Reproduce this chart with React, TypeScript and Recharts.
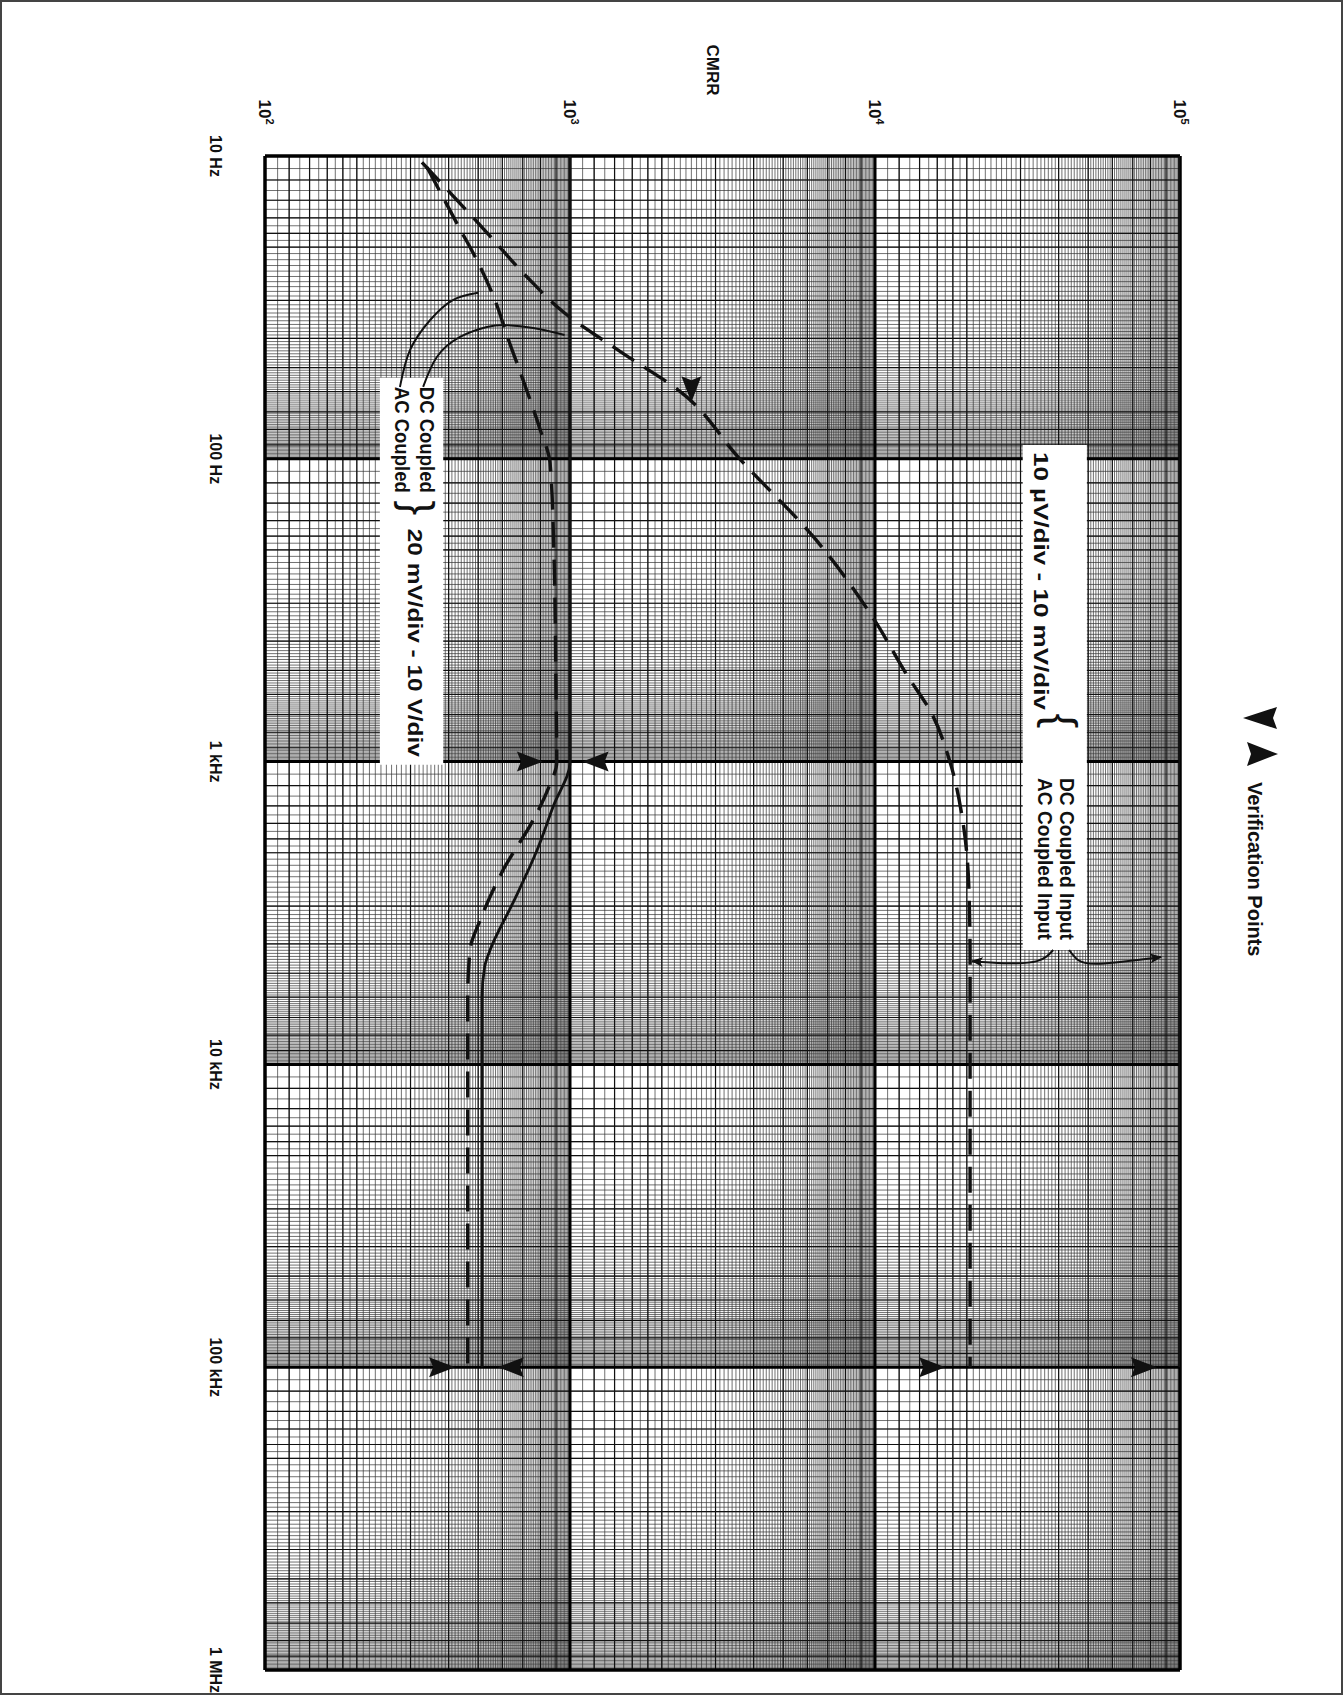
import React from "react";
import {
  ScatterChart,
  Scatter,
  XAxis,
  YAxis,
  CartesianGrid,
  ReferenceLine,
  ReferenceArea,
  Legend,
  Curve,
} from "recharts";

// CMRR vs frequency, printed on log-log paper turned a quarter turn
const FONT = "'Liberation Sans', Arial, Helvetica, sans-serif";
const INK = "#111";

const cmrrDecades = [100, 1000, 10000, 100000];
const cmrrExp = ["2", "3", "4", "5"];
const freqDecades = [10, 100, 1000, 10000, 100000, 1000000];
const freqLabels = ["10 Hz", "100 Hz", "1 kHz", "10 kHz", "100 kHz", "1 MHz"];

// 10 µV/div - 10 mV/div
const sensDcInput = [
  { f: 10, cmrr: 100000 },
  { f: 100000, cmrr: 100000 },
];
const sensAcInput = [
  { f: 10.5, cmrr: 327 },
  { f: 17.8, cmrr: 531 },
  { f: 25, cmrr: 720 },
  { f: 33, cmrr: 960 },
  { f: 45, cmrr: 1500 },
  { f: 60, cmrr: 2300 },
  { f: 100, cmrr: 3600 },
  { f: 185, cmrr: 6400 },
  { f: 343, cmrr: 10000 },
  { f: 516, cmrr: 12700 },
  { f: 690, cmrr: 15300 },
  { f: 1000, cmrr: 17600 },
  { f: 1570, cmrr: 19400 },
  { f: 2570, cmrr: 20300 },
  { f: 4500, cmrr: 20500 },
  { f: 100000, cmrr: 20500 },
];

// 20 mV/div - 10 V/div
const coarseDc = [
  { f: 10, cmrr: 1000 },
  { f: 1000, cmrr: 1000 },
  { f: 1410, cmrr: 880 },
  { f: 1960, cmrr: 780 },
  { f: 2930, cmrr: 650 },
  { f: 4190, cmrr: 547 },
  { f: 4760, cmrr: 525 },
  { f: 6000, cmrr: 515 },
  { f: 100000, cmrr: 515 },
];
const coarseAc = [
  { f: 10.9, cmrr: 340 },
  { f: 17, cmrr: 430 },
  { f: 22.5, cmrr: 500 },
  { f: 30, cmrr: 568 },
  { f: 40, cmrr: 626 },
  { f: 55, cmrr: 702 },
  { f: 80, cmrr: 798 },
  { f: 103, cmrr: 860 },
  { f: 200, cmrr: 885 },
  { f: 600, cmrr: 900 },
  { f: 1000, cmrr: 905 },
  { f: 1240, cmrr: 845 },
  { f: 1550, cmrr: 760 },
  { f: 2270, cmrr: 605 },
  { f: 3300, cmrr: 510 },
  { f: 4200, cmrr: 470 },
  { f: 6000, cmrr: 462 },
  { f: 100000, cmrr: 462 },
];

// verification points (tip of each arrowhead)
const verifyRight = [
  { f: 1000, cmrr: 815 },
  { f: 100000, cmrr: 420 },
  { f: 100000, cmrr: 17000 },
  { f: 100000, cmrr: 84000 },
];
const verifyLeft = [
  { f: 1000, cmrr: 1100 },
  { f: 100000, cmrr: 580 },
];
const verifyDown = [{ f: 65, cmrr: 2500 }];

// leader lines from the text boxes
const leaderDcInput = [
  { cmrr: 43300, f: 4190 },
  { cmrr: 46300, f: 4520 },
  { cmrr: 54700, f: 4650 },
  { cmrr: 86700, f: 4420 },
];
const leaderAcInput = [
  { cmrr: 38400, f: 4190 },
  { cmrr: 33960, f: 4560 },
  { cmrr: 26500, f: 4630 },
  { cmrr: 20800, f: 4560 },
];
const leaderDcCoupled = [
  { cmrr: 330, f: 57.9 },
  { cmrr: 366, f: 46.1 },
  { cmrr: 436, f: 39.6 },
  { cmrr: 534, f: 36.7 },
  { cmrr: 621, f: 36.2 },
  { cmrr: 757, f: 37 },
  { cmrr: 960, f: 39 },
];
const leaderAcCoupled = [
  { cmrr: 277, f: 57.9 },
  { cmrr: 299, f: 43.7 },
  { cmrr: 348, f: 34.8 },
  { cmrr: 413, f: 29.9 },
  { cmrr: 500, f: 28.3 },
];

// log paper rulings: fine every 0.1 of a decade, heavier on the main steps
const fineRule = (decades: number[]) =>
  decades.flatMap((d) => Array.from({ length: 90 }, (_, i) => +((d * (10 + i)) / 10).toPrecision(6)));
const midSteps = [1.2, 1.4, 1.6, 1.8, 2, 3, 4, 5, 6, 7, 8, 9];
const gridX = [...fineRule([100, 1000, 10000]), 100000];
const gridY = [...fineRule([10, 100, 1000, 10000, 100000]), 1000000];
const midX = [100, 1000, 10000].flatMap((d) => midSteps.map((s) => +(d * s).toPrecision(6)));
const midY = [10, 100, 1000, 10000, 100000].flatMap((d) => midSteps.map((s) => +(d * s).toPrecision(6)));

const txt = (
  x: number,
  y: number,
  s: string,
  size = 20,
  weight: any = "bold",
  anchor: any = "start",
  length?: number
) => (
  <text
    transform={`translate(${x},${y}) rotate(90)`}
    textAnchor={anchor}
    fontFamily={FONT}
    fontWeight={weight}
    fontSize={size}
    fill={INK}
    textLength={length}
    lengthAdjust={length ? "spacingAndGlyphs" : undefined}
  >
    {s}
  </text>
);

function CmrrTick(props: any) {
  const { x, payload } = props;
  const i = cmrrDecades.indexOf(payload.value);
  if (i < 0) return <g />;
  return (
    <text
      transform={`translate(${x - 6},112) rotate(90)`}
      textAnchor="middle"
      fontFamily={FONT}
      fontWeight="bold"
      fontSize={17}
      fill={INK}
    >
      10
      <tspan dy={-7} fontSize={11}>
        {cmrrExp[i]}
      </tspan>
    </text>
  );
}

function FreqTick(props: any) {
  const { y, payload } = props;
  const i = freqDecades.indexOf(payload.value);
  if (i < 0) return <g />;
  return txt(210, y, freqLabels[i], 16, "bold", "middle");
}

function CmrrTitle(props: any) {
  const vb = props.viewBox;
  return txt(vb.x + vb.width * 0.49 - 6, vb.y - 26, "CMRR", 17, "bold", "middle");
}

function UpperBoxText(props: any) {
  const { x, y } = props.viewBox;
  return (
    <g>
      {txt(x + 11, y + 7, "10 \u00b5V/div - 10 mV/div", 21, "bold", "start", 258)}
      {txt(x + 23, y + 276, "{", 44, "normal", "middle")}
      {txt(x + 37, y + 333, "DC Coupled Input", 20, "bold", "start", 162)}
      {txt(x + 15, y + 333, "AC Coupled Input", 20, "bold", "start", 162)}
    </g>
  );
}

function LowerBoxText(props: any) {
  const { x, y } = props.viewBox;
  return (
    <g>
      {txt(x + 40, y + 9, "DC Coupled", 20, "bold", "start", 106)}
      {txt(x + 15, y + 9, "AC Coupled", 20, "bold", "start", 106)}
      {txt(x + 23, y + 130, "}", 44, "normal", "middle")}
      {txt(x + 28, y + 151, "20 mV/div - 10 V/div", 21, "bold", "start", 228)}
    </g>
  );
}

const head = (cx: number, cy: number, dir: string, len = 26, half = 10, notch = 4) => {
  let pts: number[][];
  if (dir === "right")
    pts = [[cx, cy], [cx - len, cy - half], [cx - len + notch, cy], [cx - len, cy + half]];
  else if (dir === "left")
    pts = [[cx, cy], [cx + len, cy - half], [cx + len - notch, cy], [cx + len, cy + half]];
  else pts = [[cx, cy], [cx - half, cy - len], [cx, cy - len + notch], [cx + half, cy - len]];
  return <polygon points={pts.map((p) => p.join(",")).join(" ")} fill={INK} />;
};

function VerificationLegend() {
  return (
    <svg width={80} height={290}>
      <polygon points="13,18 47,7 43,18 47,29" fill={INK} />
      <polygon points="48,54 17,42 21,54 17,66" fill={INK} />
      {txt(18, 82, "Verification Points", 20)}
    </svg>
  );
}

const noDot = () => <g />;
const leaderLine = (p: any) => (
  <Curve points={p.points} type="natural" stroke={INK} strokeWidth={2} fill="none" markerEnd="url(#leaderHead)" />
);
const plainLeader = (p: any) => <Curve points={p.points} type="natural" stroke={INK} strokeWidth={2} fill="none" />;

const logX = { type: "number" as const, dataKey: "cmrr", scale: "log" as const, domain: [100, 100000], allowDataOverflow: true };
const logY = {
  type: "number" as const,
  dataKey: "f",
  scale: "log" as const,
  domain: [10, 1000000],
  reversed: true,
  allowDataOverflow: true,
};

export default function App() {
  return (
    <div style={{ position: "absolute", left: 0, top: 0, width: 1343, height: 1695, background: "#fff" }}>
      <svg width={0} height={0} style={{ position: "absolute" }}>
        <defs>
          <marker id="leaderHead" markerWidth={12} markerHeight={10} refX={11} refY={5} orient="auto" markerUnits="userSpaceOnUse">
            <path d="M0,0 L12,5 L0,10 L3,5 z" fill={INK} />
          </marker>
        </defs>
      </svg>
      <ScatterChart width={1343} height={1695} margin={{ top: 96, right: 163, bottom: 25, left: 205 }}>
        <XAxis
          {...logX}
          orientation="top"
          height={60}
          ticks={gridX}
          interval={0}
          tickLine={false}
          axisLine={false}
          tick={<CmrrTick />}
          label={<CmrrTitle />}
        />
        <XAxis {...logX} xAxisId="mid" orientation="top" hide ticks={midX} interval={0} />
        <XAxis {...logX} xAxisId="dec" orientation="top" hide ticks={cmrrDecades} interval={0} />
        <YAxis
          {...logY}
          width={60}
          ticks={gridY}
          interval={0}
          tickLine={false}
          axisLine={false}
          tick={<FreqTick />}
        />
        <YAxis {...logY} yAxisId="mid" hide ticks={midY} interval={0} />
        <YAxis {...logY} yAxisId="dec" hide ticks={freqDecades} interval={0} />

        <CartesianGrid stroke="#333" strokeWidth={0.7} />
        <CartesianGrid xAxisId="mid" yAxisId="mid" stroke="#111" strokeWidth={1.2} />
        <CartesianGrid xAxisId="dec" yAxisId="dec" stroke="#000" strokeWidth={3} />

        <ReferenceArea x1={30500} x2={49500} y1={90} y2={4190} fill="#fff" fillOpacity={1} stroke="none" label={<UpperBoxText />} />
        <ReferenceArea x1={238} x2={384} y1={54} y2={1025} fill="#fff" fillOpacity={1} stroke="none" label={<LowerBoxText />} />

        {[100, 100000].map((v) => (
          <ReferenceLine key={"ex" + v} x={v} stroke="#000" strokeWidth={3} />
        ))}
        {[10, 1000000].map((v) => (
          <ReferenceLine key={"ey" + v} y={v} stroke="#000" strokeWidth={3} />
        ))}

        <Scatter data={sensDcInput} line={{ stroke: INK, strokeWidth: 3 }} lineJointType="monotoneY" shape={noDot} isAnimationActive={false} />
        <Scatter data={sensAcInput} line={{ stroke: INK, strokeWidth: 3.4, strokeDasharray: "26 12" }} lineJointType="monotoneY" shape={noDot} isAnimationActive={false} />
        <Scatter data={coarseDc} line={{ stroke: INK, strokeWidth: 2.8 }} lineJointType="monotoneY" shape={noDot} isAnimationActive={false} />
        <Scatter data={coarseAc} line={{ stroke: INK, strokeWidth: 3.4, strokeDasharray: "26 12" }} lineJointType="monotoneY" shape={noDot} isAnimationActive={false} />

        <Scatter data={leaderDcInput} line={leaderLine} shape={noDot} isAnimationActive={false} />
        <Scatter data={leaderAcInput} line={leaderLine} shape={noDot} isAnimationActive={false} />
        <Scatter data={leaderDcCoupled} line={plainLeader} shape={noDot} isAnimationActive={false} />
        <Scatter data={leaderAcCoupled} line={plainLeader} shape={noDot} isAnimationActive={false} />

        <Scatter data={verifyRight} shape={(p: any) => head(p.cx, p.cy, "right")} isAnimationActive={false} />
        <Scatter data={verifyLeft} shape={(p: any) => head(p.cx, p.cy, "left")} isAnimationActive={false} />
        <Scatter data={verifyDown} shape={(p: any) => head(p.cx, p.cy, "down")} isAnimationActive={false} />

        <Legend
          layout="horizontal"
          verticalAlign="middle"
          align="center"
          content={<VerificationLegend />}
          wrapperStyle={{ left: 1230, top: 700, width: 80, height: 290 }}
        />
      </ScatterChart>
      <div
        style={{
          position: "absolute",
          left: 0,
          top: 0,
          width: 1343,
          height: 1695,
          boxSizing: "border-box",
          border: "2px solid #444",
          pointerEvents: "none",
        }}
      />
    </div>
  );
}
